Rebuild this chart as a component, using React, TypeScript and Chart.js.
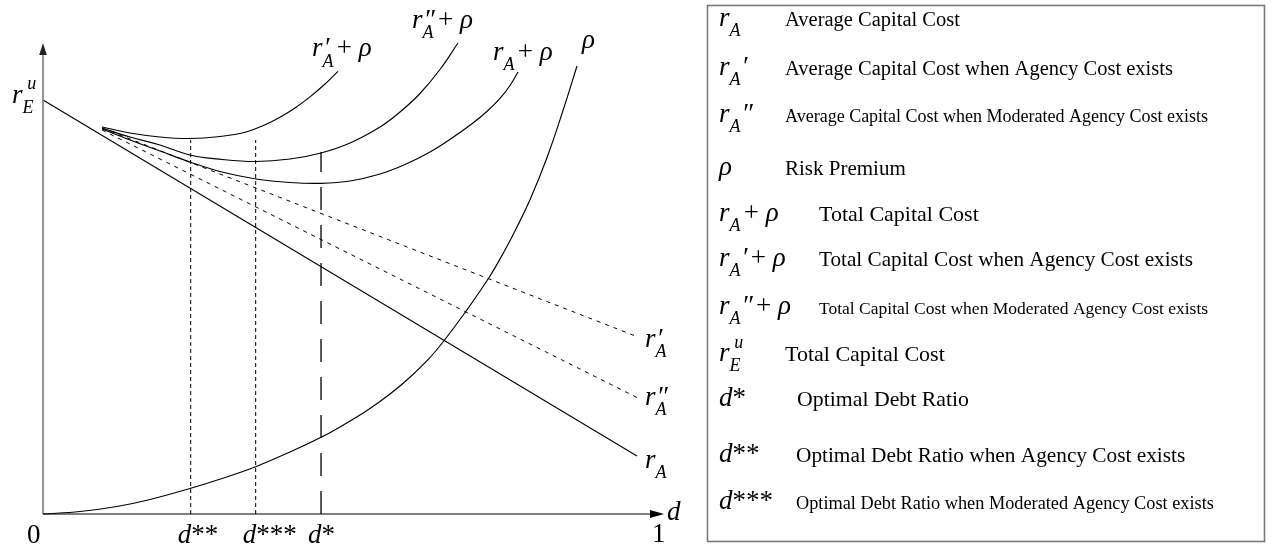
import { useEffect, useRef } from 'react';
import { Chart, registerables } from 'chart.js';

Chart.register(...registerables);

type Pt = { x: number; y: number };

// x: debt ratio d (0..1), y: cost of capital (share of the axis height)
const rA: Pt[] = [
  { x: 0, y: 0.879 },
  { x: 0.9627, y: 0.1231 },
];
const rAPrime: Pt[] = [
  { x: 0.0956, y: 0.8195 },
  { x: 0.9643, y: 0.3758 },
];
const rADouble: Pt[] = [
  { x: 0.0956, y: 0.8153 },
  { x: 0.9643, y: 0.2463 },
];
const rho: Pt[] = [
  { x: 0, y: 0 }, { x: 0.06, y: 0.0053 }, { x: 0.1199, y: 0.0159 }, { x: 0.1734, y: 0.0308 },
  { x: 0.2394, y: 0.0546 }, { x: 0.2901, y: 0.0754 }, { x: 0.3447, y: 0.1004 }, { x: 0.4003, y: 0.1316 },
  { x: 0.4506, y: 0.1628 }, { x: 0.4895, y: 0.1911 }, { x: 0.5251, y: 0.2197 }, { x: 0.5624, y: 0.2548 },
  { x: 0.5948, y: 0.2904 }, { x: 0.624, y: 0.3276 }, { x: 0.6483, y: 0.3652 }, { x: 0.6823, y: 0.4246 },
  { x: 0.7229, y: 0.5021 }, { x: 0.7488, y: 0.5605 }, { x: 0.7682, y: 0.6093 }, { x: 0.7909, y: 0.672 },
  { x: 0.8169, y: 0.7569 }, { x: 0.8428, y: 0.8567 }, { x: 0.8655, y: 0.9512 },
];
const totalA: Pt[] = [
  { x: 0.0956, y: 0.8174 }, { x: 0.141, y: 0.7941 }, { x: 0.1896, y: 0.7707 }, { x: 0.2382, y: 0.7473 },
  { x: 0.2901, y: 0.7261 }, { x: 0.3452, y: 0.7113 }, { x: 0.4003, y: 0.7038 }, { x: 0.4506, y: 0.7021 },
  { x: 0.4976, y: 0.707 }, { x: 0.5462, y: 0.7219 }, { x: 0.5867, y: 0.742 }, { x: 0.6272, y: 0.7686 },
  { x: 0.6629, y: 0.7983 }, { x: 0.6969, y: 0.8301 }, { x: 0.7212, y: 0.8567 }, { x: 0.7407, y: 0.8822 },
  { x: 0.7569, y: 0.9098 }, { x: 0.7699, y: 0.9384 },
];
const totalAPrime: Pt[] = [
  { x: 0.0956, y: 0.8217 }, { x: 0.141, y: 0.8089 }, { x: 0.1896, y: 0.8004 }, { x: 0.2382, y: 0.7972 },
  { x: 0.2869, y: 0.8015 }, { x: 0.3306, y: 0.8117 }, { x: 0.3598, y: 0.8263 }, { x: 0.3841, y: 0.8423 },
  { x: 0.4084, y: 0.862 }, { x: 0.4327, y: 0.8856 }, { x: 0.4571, y: 0.913 }, { x: 0.4781, y: 0.9397 },
];
const totalADouble: Pt[] = [
  { x: 0.0956, y: 0.8195 }, { x: 0.141, y: 0.8004 }, { x: 0.1896, y: 0.7834 }, { x: 0.2382, y: 0.7622 },
  { x: 0.2901, y: 0.7527 }, { x: 0.3452, y: 0.7484 }, { x: 0.4003, y: 0.7537 }, { x: 0.4506, y: 0.7665 },
  { x: 0.4976, y: 0.7877 }, { x: 0.5462, y: 0.8217 }, { x: 0.5786, y: 0.8535 }, { x: 0.611, y: 0.8928 },
  { x: 0.6434, y: 0.9437 }, { x: 0.6726, y: 1.0 },
];

// optimal debt ratios d**, d***, d* and the height each guide reaches
const optimalRatios = [0.2394, 0.3447, 0.4506];
const optimalTops = [0.7941, 0.7941, 0.7686];
const optimalLabels = ['d**', 'd***', 'd*'];

const curveLabels = ["r'_A+ ρ", "r''_A+ ρ", 'r_A+ ρ', 'ρ', "r'_A", "r''_A", 'r_A', 'r^u_E'];

const legendSymbols = ['r_A', "r_A'", "r_A''", 'ρ', 'r_A+ ρ', "r_A'+ ρ", "r_A''+ ρ", 'r^u_E', 'd*', 'd**', 'd***'];
const legendTexts = [
  'Average Capital Cost',
  'Average Capital Cost when Agency Cost exists',
  'Average Capital Cost when Moderated Agency Cost exists',
  'Risk Premium',
  'Total Capital Cost',
  'Total Capital Cost when Agency Cost exists',
  'Total Capital Cost when Moderated Agency Cost exists',
  'Total Capital Cost',
  'Optimal Debt Ratio',
  'Optimal Debt Ratio when Agency Cost exists',
  'Optimal Debt Ratio when Moderated Agency Cost exists',
];

const FONT = '"Liberation Serif", "Times New Roman", Times, serif';
const MATH_SIZE = 27;

// legend layout
const LEGEND_BOX = { x: 707.5, y: 5.5, w: 557, h: 536 };
const LEGEND_SYMBOL_X = 719;
const legendBaselines = [26, 75, 122, 175, 221, 266, 314, 361, 406, 462, 509];
const legendTextX = [785, 785, 785, 785, 819, 819, 819, 785, 797, 796, 796];
const legendTextSize = [20.5, 20.5, 18, 21, 22, 21.2, 17.5, 22, 21.8, 21.3, 18.3];

// small math typesetter: italic letters, _sub, ^sup, primes, roman symbols
function drawMath(ctx: CanvasRenderingContext2D, src: string, x0: number, y0: number, size: number) {
  const scriptSize = Math.round(size * 0.66);
  const italic = (s: number) => `italic ${s}px ${FONT}`;
  const roman = (s: number) => `${s}px ${FONT}`;
  const put = (t: string, font: string, x: number, y: number) => {
    ctx.font = font;
    ctx.fillText(t, x, y);
    return ctx.measureText(t).width;
  };
  let x = x0;
  let stackX: number | null = null;
  let i = 0;
  while (i < src.length) {
    const c = src[i];
    if (c === '_') {
      const sx = stackX ?? x;
      const w = put(src[i + 1], italic(scriptSize), sx, y0 + size * 0.38);
      x = Math.max(x, sx + w);
      stackX = null;
      i += 2;
    } else if (c === '^') {
      const off = size * 0.18;
      const w = put(src[i + 1], italic(scriptSize), x + off, y0 - size * 0.5);
      stackX = x;
      x = x + off + w;
      i += 2;
    } else if (c === "'") {
      let n = 0;
      while (src[i + n] === "'") n++;
      const glyph = n >= 2 ? '\u2033' : '\u2032';
      const w = put(glyph, italic(size), x + 1, y0);
      stackX = x;
      x = x + 1 + w;
      i += n;
    } else if (c === ' ') {
      x += size * 0.25;
      i++;
    } else if (c === '+') {
      x += size * 0.12;
      x += put(c, roman(size), x, y0);
      stackX = null;
      i++;
    } else if (/[a-zρ]/.test(c)) {
      x += put(c, italic(size), x, y0);
      stackX = null;
      i++;
    } else {
      x += put(c, roman(size), x, y0);
      stackX = null;
      i++;
    }
  }
}

const diagramPlugin = {
  id: 'diagram',
  afterDatasetsDraw(chart: any) {
    const { ctx, chartArea, scales } = chart;
    const xs = scales.x;
    const ys = scales.y;
    const x0 = xs.getPixelForValue(0);
    const y0 = ys.getPixelForValue(0);
    ctx.save();

    // y axis with arrow
    ctx.strokeStyle = '#7a7a7a';
    ctx.lineWidth = 1.6;
    ctx.beginPath();
    ctx.moveTo(x0, y0);
    ctx.lineTo(x0, chartArea.top + 8);
    ctx.stroke();
    ctx.fillStyle = '#222';
    ctx.beginPath();
    ctx.moveTo(x0, chartArea.top);
    ctx.lineTo(x0 - 3.8, chartArea.top + 12);
    ctx.lineTo(x0 + 3.8, chartArea.top + 12);
    ctx.closePath();
    ctx.fill();

    // x axis with arrow
    const tip = chartArea.right + 4;
    ctx.strokeStyle = '#000';
    ctx.lineWidth = 1.2;
    ctx.beginPath();
    ctx.moveTo(x0, y0);
    ctx.lineTo(tip - 8, y0);
    ctx.stroke();
    ctx.fillStyle = '#000';
    ctx.beginPath();
    ctx.moveTo(tip, y0);
    ctx.lineTo(tip - 14, y0 - 4);
    ctx.lineTo(tip - 14, y0 + 4);
    ctx.closePath();
    ctx.fill();

    ctx.fillStyle = '#000';
    ctx.textBaseline = 'alphabetic';
    ctx.textAlign = 'left';

    // tick labels
    drawMath(ctx, '0', x0 - 16, y0 + 29, MATH_SIZE);
    drawMath(ctx, '1', xs.getPixelForValue(1) - 8, y0 + 28, MATH_SIZE);
    drawMath(ctx, 'd', tip + 3, y0 + 6, MATH_SIZE);
    optimalRatios.forEach((d, k) => {
      drawMath(ctx, optimalLabels[k], xs.getPixelForValue(d) - 13, y0 + 29, MATH_SIZE);
    });

    // curve labels beside the curve ends
    const at = (pts: Pt[], idx: number) => {
      const p = pts[idx < 0 ? pts.length + idx : idx];
      return { x: xs.getPixelForValue(p.x), y: ys.getPixelForValue(p.y) };
    };
    const anchors = [
      { p: at(totalAPrime, -1), dx: -26, dy: -15 },
      { p: at(totalADouble, -1), dx: -46, dy: -15 },
      { p: at(totalA, -1), dx: -25, dy: -12 },
      { p: at(rho, -1), dx: 5, dy: -18 },
      { p: at(rAPrime, -1), dx: 7, dy: 10 },
      { p: at(rADouble, -1), dx: 7, dy: 7 },
      { p: at(rA, -1), dx: 8, dy: 12 },
      { p: at(rA, 0), dx: -31, dy: 3 },
    ];
    anchors.forEach((a, k) => drawMath(ctx, curveLabels[k], a.p.x + a.dx, a.p.y + a.dy, MATH_SIZE));

    // legend box
    ctx.strokeStyle = '#7a7a7a';
    ctx.lineWidth = 1.6;
    ctx.strokeRect(LEGEND_BOX.x, LEGEND_BOX.y, LEGEND_BOX.w, LEGEND_BOX.h);
    legendSymbols.forEach((sym, k) => {
      const by = legendBaselines[k];
      drawMath(ctx, sym, LEGEND_SYMBOL_X, by, MATH_SIZE);
      ctx.font = `${legendTextSize[k]}px ${FONT}`;
      ctx.fillText(legendTexts[k], legendTextX[k], by);
    });
    ctx.restore();
  },
};

export default function App() {
  const canvasRef = useRef<HTMLCanvasElement | null>(null);

  useEffect(() => {
    const canvas = canvasRef.current;
    if (!canvas) return;
    const line = (data: Pt[], extra: any = {}) => ({
      data,
      borderColor: '#000',
      borderWidth: 1.1,
      pointRadius: 0,
      fill: false,
      clip: false,
      tension: 0,
      ...extra,
    });
    const curve = { tension: 0.4, borderWidth: 1.15 };
    const guides = optimalRatios.map((d, k) =>
      line(
        [
          { x: d, y: 0 },
          { x: d, y: optimalTops[k] },
        ],
        k === 2 ? { borderDash: [23, 15], borderWidth: 1.3 } : { borderDash: [4, 3], borderWidth: 1 }
      )
    );
    const chart = new Chart(canvas, {
      type: 'line',
      data: {
        datasets: [
          ...guides,
          line(rA, { borderWidth: 1.1 }),
          line(rAPrime, { borderDash: [4, 5], borderWidth: 1 }),
          line(rADouble, { borderDash: [4, 5], borderWidth: 1 }),
          line(rho, curve),
          line(totalA, curve),
          line(totalAPrime, curve),
          line(totalADouble, curve),
        ],
      },
      options: {
        responsive: false,
        maintainAspectRatio: false,
        devicePixelRatio: 1,
        animation: false,
        events: [],
        layout: { padding: { left: 43, right: 613, top: 43, bottom: 33 } },
        scales: {
          x: { type: 'linear', min: 0, max: 1, display: false },
          y: { type: 'linear', min: 0, max: 1, display: false },
        },
        plugins: { legend: { display: false }, tooltip: { enabled: false } },
      },
      plugins: [diagramPlugin],
    } as any);
    return () => chart.destroy();
  }, []);

  return (
    <div style={{ position: 'fixed', left: 0, top: 0, width: 1273, height: 547, background: '#fff' }}>
      <canvas ref={canvasRef} width={1273} height={547} style={{ display: 'block', width: 1273, height: 547 }} />
    </div>
  );
}
